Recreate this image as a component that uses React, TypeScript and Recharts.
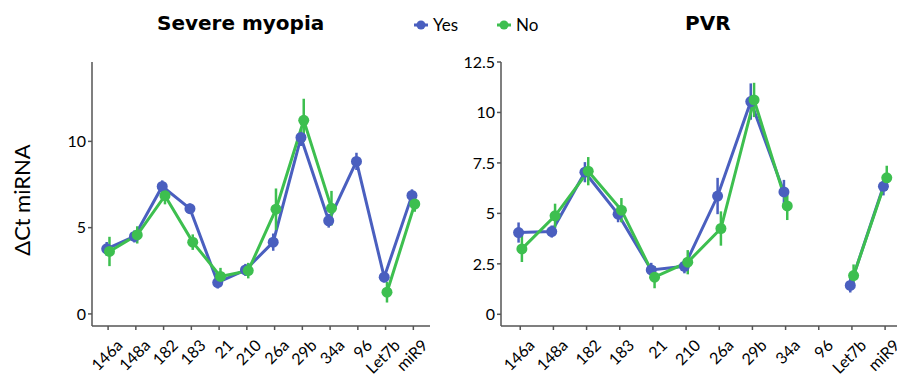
import React from "react";
import { LineChart, Line, XAxis, YAxis, ErrorBar } from "recharts";

const categories = ["146a", "148a", "182", "183", "21", "210", "26a", "29b", "34a", "96", "Let7b", "miR9"];

const myopiaYes = [3.77, 4.49, 7.39, 6.1, 1.82, 2.55, 4.16, 10.23, 5.4, 8.84, 2.13, 6.87];
const myopiaYesErr = [0.4, 0.35, 0.35, 0.3, 0.35, 0.35, 0.5, 0.5, 0.4, 0.5, 0.3, 0.35];
const myopiaNo = [3.62, 4.58, 6.85, 4.16, 2.17, 2.51, 6.07, 11.22, 6.13, null, 1.26, 6.37];
const myopiaNoErr = [0.85, 0.5, 0.5, 0.45, 0.5, 0.45, 1.2, 1.25, 1.0, null, 0.6, 0.45];

const pvrYes = [4.05, 4.1, 7.04, 4.96, 2.2, 2.38, 5.86, 10.54, 6.06, null, 1.43, 6.34];
const pvrYesErr = [0.5, 0.3, 0.5, 0.4, 0.35, 0.35, 0.9, 0.9, 0.6, null, 0.35, 0.45];
const pvrNo = [3.24, 4.88, 7.09, 5.16, 1.84, 2.58, 4.25, 10.62, 5.37, null, 1.92, 6.76];
const pvrNoErr = [0.65, 0.6, 0.7, 0.6, 0.55, 0.6, 0.85, 0.85, 0.7, null, 0.55, 0.6];

const myopiaTicks = [0, 5, 10];
const pvrTicks = [0, 2.5, 5, 7.5, 10, 12.5];

const BLUE = "#4a5fbf";
const GREEN = "#3dbf4f";
const FONT = "Lato, 'Open Sans', sans-serif";
const TITLE_FONT = "'DejaVu Sans', sans-serif";
const DODGE = 0.05;

type Point = { x: number; y: number | null; err: number | null };

function series(values: (number | null)[], errs: (number | null)[], shift: number): Point[] {
  return values.map((v, i) => ({ x: i + shift, y: v, err: errs[i] }));
}

const XTick = (props: any) => {
  const { x, y, payload } = props;
  return (
    <g transform={`translate(${x + 7},${y + 6})`}>
      <text
        textAnchor="end"
        transform="rotate(-45)"
        dy="0.75em"
        fontSize={16}
        fontFamily={FONT}
        fill="#000"
      >
        {categories[payload.value]}
      </text>
    </g>
  );
};

function Panel({
  yes,
  no,
  domain,
  ticks,
  width,
  yAxisWidth,
  yLabel,
}: {
  yes: Point[];
  no: Point[];
  domain: [number, number];
  ticks: number[];
  width: number;
  yAxisWidth: number;
  yLabel?: string;
}) {
  const axisLine = { stroke: "#555", strokeWidth: 1.5 };
  return (
    <LineChart width={width} height={376} margin={{ top: 62, right: 10, bottom: 0, left: 0 }}>
      <XAxis
        type="number"
        dataKey="x"
        domain={[-0.58, 11.6]}
        ticks={categories.map((_, i) => i)}
        interval={0}
        allowDataOverflow
        axisLine={axisLine}
        tickLine={axisLine}
        tickSize={4}
        tick={<XTick />}
        height={50}
      />
      <YAxis
        type="number"
        dataKey="y"
        domain={domain}
        ticks={ticks}
        allowDataOverflow
        width={yAxisWidth}
        axisLine={axisLine}
        tickLine={axisLine}
        tickSize={4}
        tick={{ fontSize: 16, fontFamily: FONT, fill: "#000" }}
        label={
          yLabel
            ? {
                value: yLabel,
                angle: -90,
                position: "insideLeft",
                offset: 22,
                dy: 6,
                style: { fontSize: 22, fontFamily: FONT, fill: "#000", textAnchor: "middle" },
              }
            : undefined
        }
      />
      <Line
        data={yes}
        dataKey="y"
        stroke={BLUE}
        strokeWidth={3}
        dot={{ r: 5.5, fill: BLUE, stroke: BLUE, strokeWidth: 0 }}
        activeDot={false}
        isAnimationActive={false}
      >
        <ErrorBar dataKey="err" direction="y" width={0} stroke={BLUE} strokeWidth={2.5} />
      </Line>
      <Line
        data={no}
        dataKey="y"
        stroke={GREEN}
        strokeWidth={3}
        dot={{ r: 5.5, fill: GREEN, stroke: GREEN, strokeWidth: 0 }}
        activeDot={false}
        isAnimationActive={false}
      >
        <ErrorBar dataKey="err" direction="y" width={0} stroke={GREEN} strokeWidth={2.5} />
      </Line>
    </LineChart>
  );
}

const LegendKey = ({ color }: { color: string }) => (
  <svg width={16} height={12} style={{ marginRight: 4 }}>
    <line x1={1} y1={6} x2={15} y2={6} stroke={color} strokeWidth={3} />
    <circle cx={8} cy={6} r={4.5} fill={color} />
  </svg>
);

export default function App() {
  const title = {
    position: "absolute" as const,
    top: 11,
    fontFamily: TITLE_FONT,
    fontWeight: 700,
    fontSize: 20,
    color: "#000",
  };
  return (
    <div
      style={{
        position: "absolute",
        left: 0,
        top: 0,
        width: 897,
        height: 376,
        overflow: "hidden",
        background: "#fff",
      }}
    >
      <div style={{ position: "absolute", left: 0, top: 0 }}>
        <Panel
          yes={series(myopiaYes, myopiaYesErr, -DODGE)}
          no={series(myopiaNo, myopiaNoErr, DODGE)}
          domain={[-0.7, 14.6]}
          ticks={myopiaTicks}
          width={440}
          yAxisWidth={92}
          yLabel="ΔCt miRNA"
        />
      </div>
      <div style={{ position: "absolute", left: 440, top: 0 }}>
        <Panel
          yes={series(pvrYes, pvrYesErr, -DODGE)}
          no={series(pvrNo, pvrNoErr, DODGE)}
          domain={[-0.58, 12.5]}
          ticks={pvrTicks}
          width={475}
          yAxisWidth={61}
        />
      </div>
      <div style={{ ...title, left: 157 }}>Severe myopia</div>
      <div style={{ ...title, left: 685 }}>PVR</div>
      <div
        style={{
          position: "absolute",
          left: 413,
          top: 14,
          display: "flex",
          alignItems: "center",
          fontFamily: FONT,
          fontSize: 17,
          color: "#000",
        }}
      >
        <LegendKey color={BLUE} />
        <span style={{ marginRight: 38 }}>Yes</span>
        <LegendKey color={GREEN} />
        <span>No</span>
      </div>
    </div>
  );
}
